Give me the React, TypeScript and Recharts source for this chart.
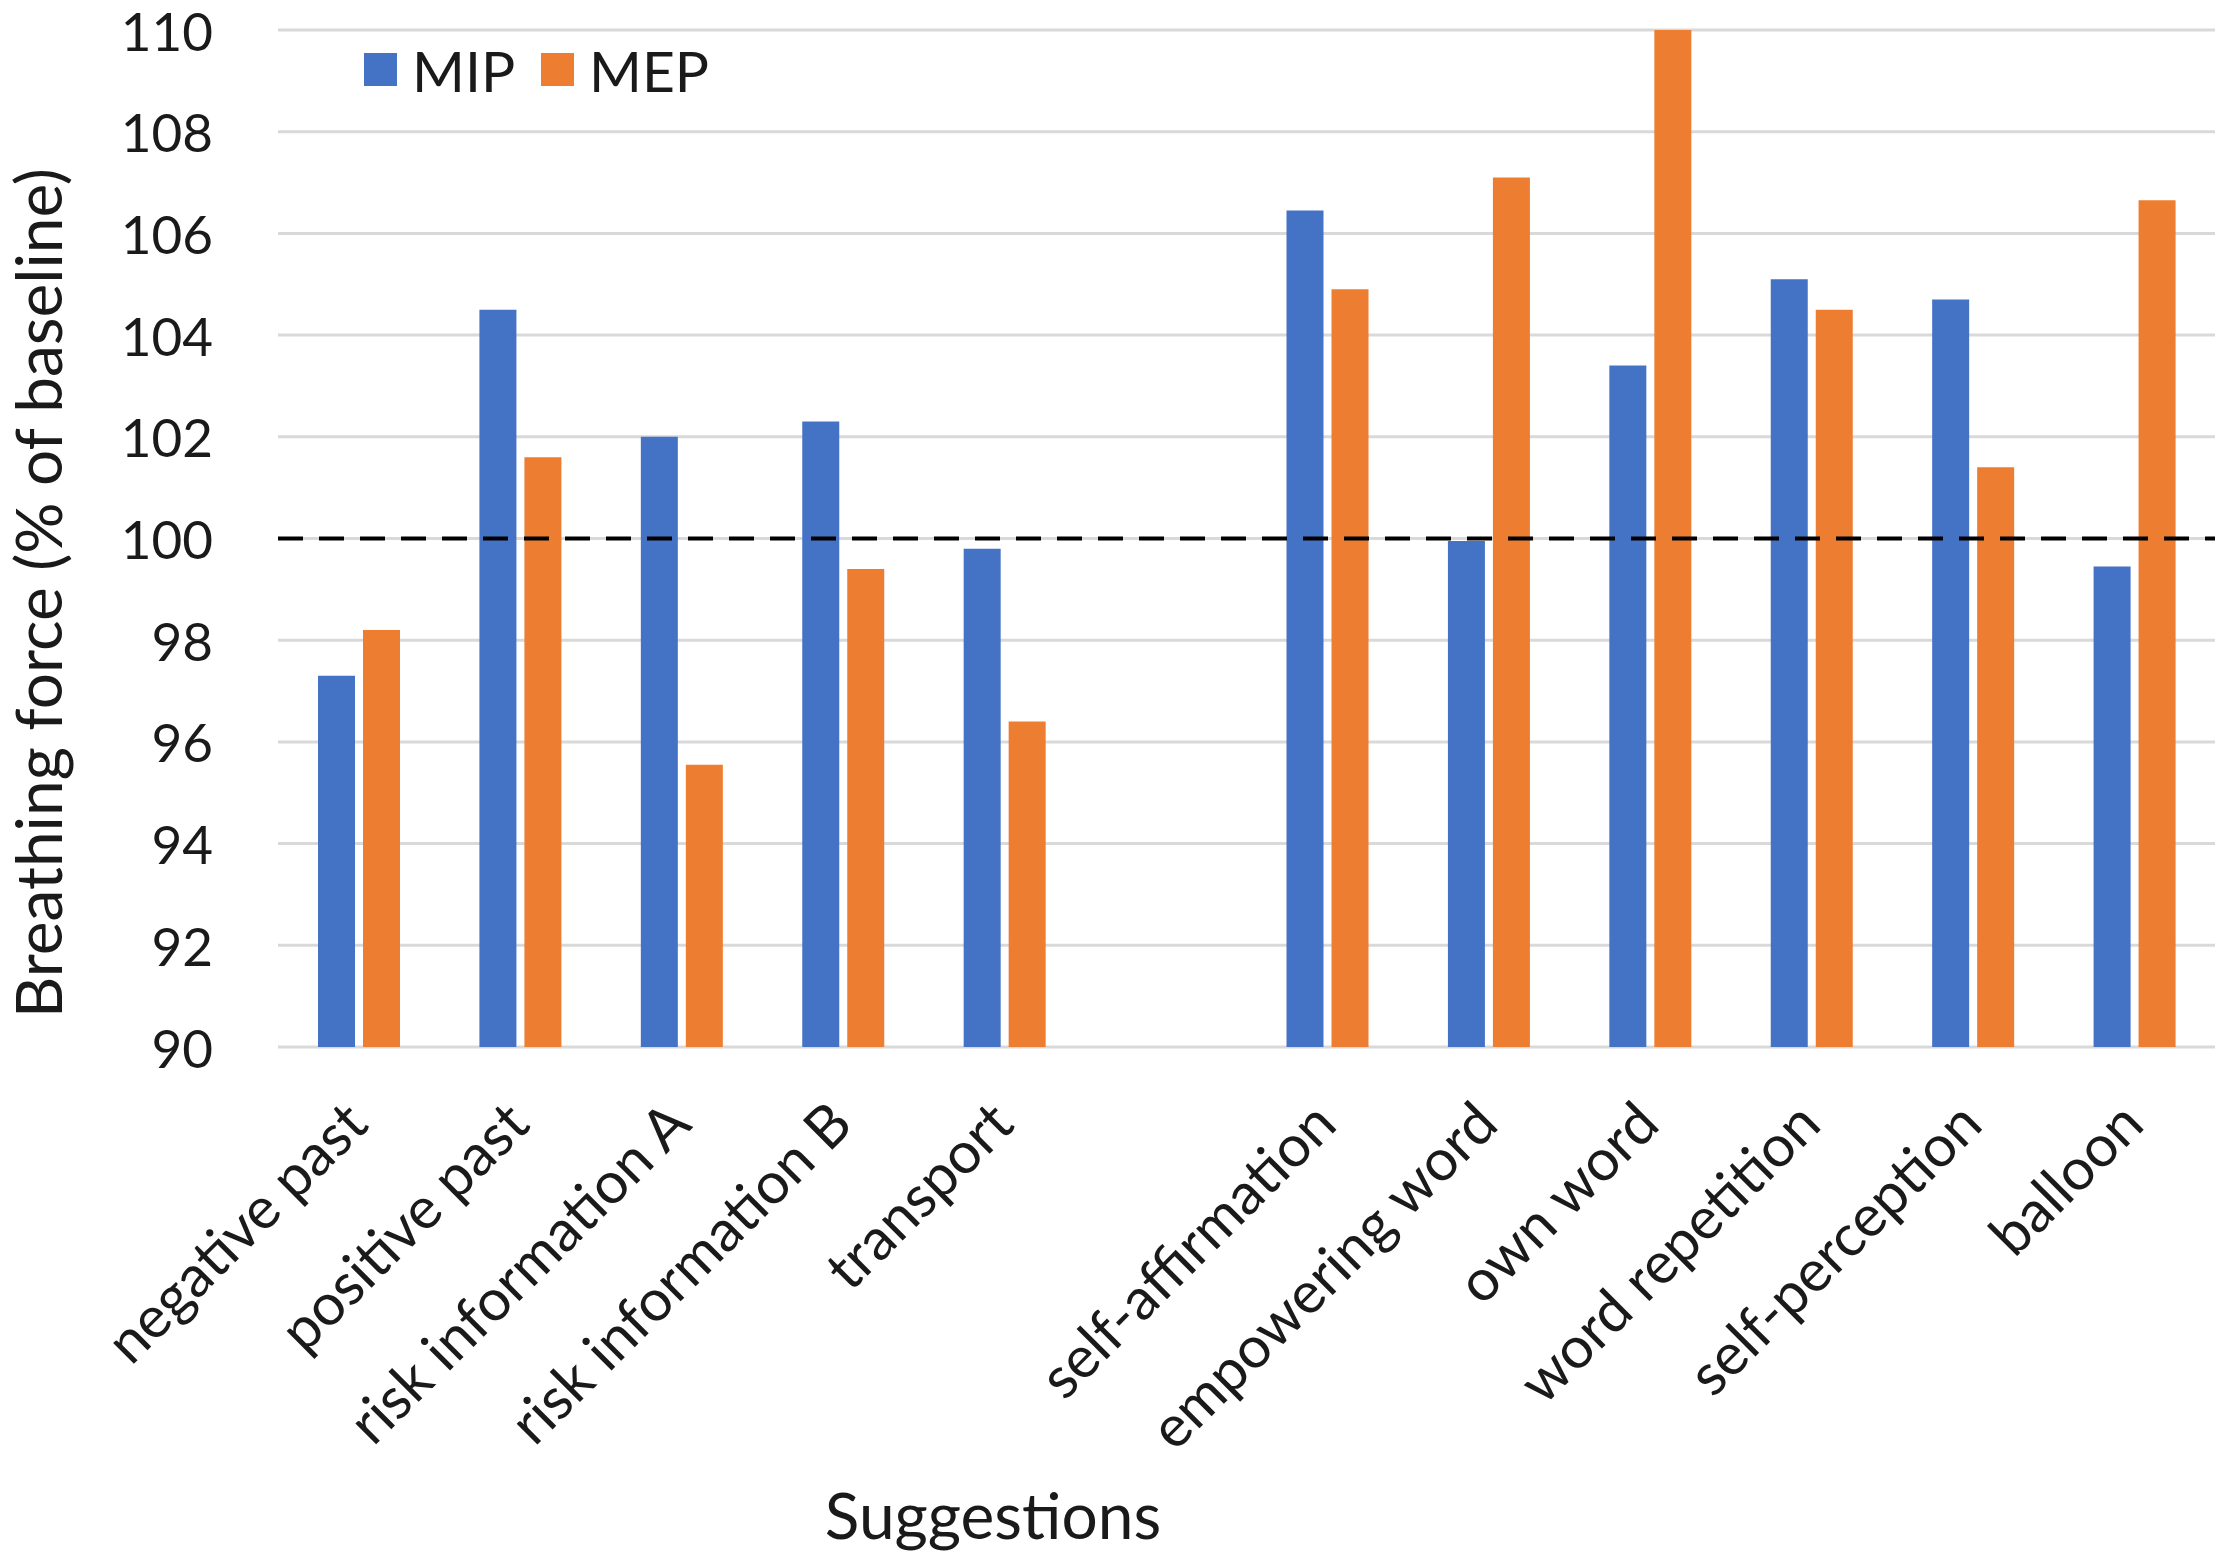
import * as React from "react";
import {
  BarChart, Bar, XAxis, YAxis, CartesianGrid, ReferenceLine, Legend
} from "recharts";

if (typeof document !== "undefined") document.body.style.margin = "0";

// categories ("" = the empty slot between the two groups)
const categories = [
  "negative past", "positive past", "risk information A", "risk information B", "transport",
  "",
  "self-affirmation", "empowering word", "own word", "word repetition", "self-perception", "balloon",
];

// % of baseline
const mip = [97.3, 104.5, 102.0, 102.3, 99.8, null, 106.45, 99.95, 103.4, 105.1, 104.7, 99.45];
const mep = [98.2, 101.6, 95.55, 99.4, 96.4, null, 104.9, 107.1, 110.0, 104.5, 101.4, 106.65];

const yTicks = [90, 92, 94, 96, 98, 100, 102, 104, 106, 108, 110];

const data = categories.map((name, i) => ({ name, MIP: mip[i], MEP: mep[i] }));

const FONT = "Lato, 'Open Sans', sans-serif";
const TEXT = "#1a1a1a";
const BLUE = "#4472C4";
const ORANGE = "#ED7D31";

function XTick(props: any) {
  const { x, y, payload } = props;
  if (!payload.value) return null;
  return (
    <g transform={`translate(${x + 12},${y + 80})`}>
      <text transform="rotate(-45)" textAnchor="end" fontSize={58} fontFamily={FONT} fill={TEXT}>
        {payload.value}
      </text>
    </g>
  );
}

function YTick(props: any) {
  const { x, y, payload } = props;
  return (
    <text x={x - 65} y={y} textAnchor="end" dominantBaseline="central" fontSize={53} fontFamily={FONT} fill={TEXT}>
      {payload.value}
    </text>
  );
}

function LegendBox() {
  const item = (color: string, label: string, x: number) => (
    <g key={label}>
      <rect x={x} y={0} width={33} height={33} fill={color} />
      <text x={x + 48} y={17} dominantBaseline="central" fontSize={57} fontFamily={FONT} fill={TEXT}>{label}</text>
    </g>
  );
  return (
    <svg width={400} height={40} style={{ overflow: "visible", display: "block" }}>
      {item(BLUE, "MIP", 0)}
      {item(ORANGE, "MEP", 177)}
    </svg>
  );
}

export default function App() {
  return (
    <BarChart
      width={2228}
      height={1563}
      data={data}
      margin={{ top: 30, right: 13, bottom: 0, left: 0 }}
      barSize={37}
      barGap={8}
    >
      <CartesianGrid vertical={false} stroke="#d9d9d9" strokeWidth={3} />
      <XAxis
        dataKey="name"
        interval={0}
        height={476}
        axisLine={false}
        tickLine={false}
        tickSize={0}
        tickMargin={0}
        tick={<XTick />}
        label={{
          content: () => (
            <text x={993} y={1539} textAnchor="middle" fontSize={64} fontFamily={FONT} fill={TEXT}>
              Suggestions
            </text>
          ),
        }}
      />
      <YAxis
        width={278}
        domain={[90, 110]}
        ticks={yTicks}
        allowDataOverflow
        axisLine={false}
        tickLine={false}
        tickSize={0}
        tickMargin={0}
        tick={<YTick />}
        label={{
          content: () => (
            <text
              x={37}
              y={593}
              transform="rotate(-90 37 593)"
              textAnchor="middle"
              dominantBaseline="central"
              fontSize={64}
              fontFamily={FONT}
              fill={TEXT}
            >
              Breathing force (% of baseline)
            </text>
          ),
        }}
      />
      <Legend
        content={<LegendBox />}
        wrapperStyle={{ position: "absolute", left: 364, top: 53, width: 400, height: 40 }}
      />
      <Bar dataKey="MIP" fill={BLUE} isAnimationActive={false} />
      <Bar dataKey="MEP" fill={ORANGE} isAnimationActive={false} />
      <ReferenceLine y={100} stroke="#000" strokeWidth={4} strokeDasharray="25 16" />
    </BarChart>
  );
}
